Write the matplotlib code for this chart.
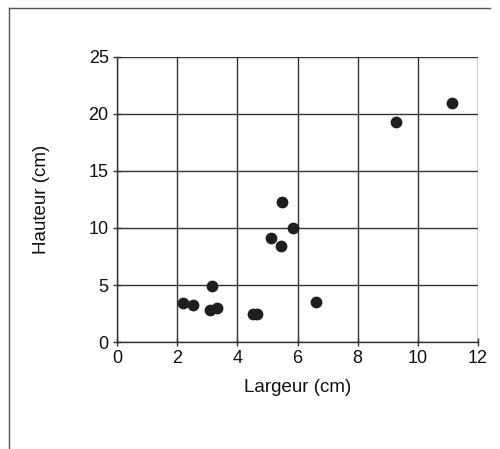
import matplotlib
matplotlib.use('Agg')
import matplotlib.pyplot as plt
from matplotlib.lines import Line2D

# largeur / hauteur des échantillons (cm)
largeur = [2.18, 2.51, 3.17, 3.09, 3.34, 4.51, 4.67, 5.12, 5.45, 5.50, 5.84, 6.63, 9.26, 11.14]
hauteur = [3.47, 3.29, 4.90, 2.80, 3.00, 2.45, 2.45, 9.15, 8.40, 12.24, 10.0, 3.50, 19.26, 20.9]

x_ticks = [0, 2, 4, 6, 8, 10, 12]
y_ticks = [0, 5, 10, 15, 20, 25]

plt.rcParams['font.family'] = ['Liberation Sans', 'DejaVu Sans']

fig = plt.figure(figsize=(5.0, 4.49), dpi=100)
ax = fig.add_axes([0.234, 0.238, 0.722, 0.636])

ax.scatter(largeur, hauteur, s=72, color='#1e1e1e', zorder=3, linewidths=0)

ax.set_xlim(0, 12)
ax.set_ylim(0, 25)
ax.set_xticks(x_ticks)
ax.set_yticks(y_ticks)
ax.grid(True, color='#333333', linewidth=1.0)
ax.set_axisbelow(True)
for side in ['top', 'right']:
    ax.spines[side].set_visible(False)
for side in ['left', 'bottom']:
    ax.spines[side].set_color('#333333')
    ax.spines[side].set_linewidth(1.0)
ax.tick_params(direction='inout', length=6, width=1, colors='#333333',
               labelcolor='#111111', labelsize=13, pad=3)

ax.set_xlabel('Largeur (cm)', fontsize=13.5, color='#111111', labelpad=8)
ax.set_ylabel('Hauteur (cm)', fontsize=13.5, color='#111111', labelpad=28)

# cadre extérieur
fig.add_artist(Line2D([0.018, 0.018], [0.0, 0.982], color='#555555', lw=1.0))
fig.add_artist(Line2D([0.018, 0.98], [0.982, 0.982], color='#555555', lw=1.0))

fig.savefig('out.png', dpi=100)
